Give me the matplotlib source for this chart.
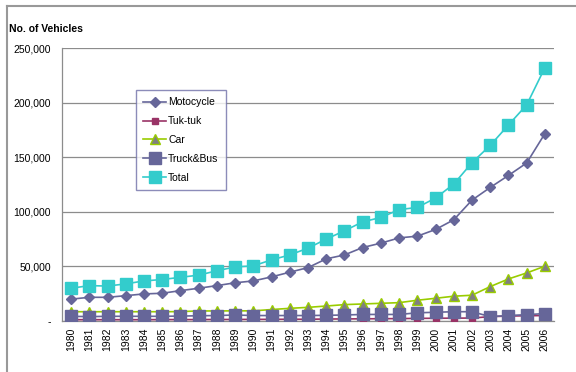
import matplotlib
matplotlib.use("Agg")
import matplotlib.pyplot as plt
from matplotlib.lines import Line2D

plt.rcParams['font.family'] = ['Liberation Sans', 'DejaVu Sans']

years = [str(y) for y in range(1980, 2007)]
motocycle = [20000, 21700, 21700, 23200, 24800, 25400, 27800, 30000, 32400, 35000,
             36700, 40400, 44700, 48900, 56900, 60500, 67300, 71300, 76100, 77700,
             83800, 92700, 110700, 122300, 133300, 144700, 171600]
tuktuk = [1200, 1200, 1200, 1200, 1200, 1300, 1300, 1300, 1400, 1400,
          1500, 1500, 1600, 1600, 1800, 1900, 2000, 2100, 2200, 2400,
          2500, 2600, 2700, 4000, 4500, 4800, 5000]
car = [8500, 8500, 8500, 8500, 8500, 8500, 8600, 9200, 9200, 9300,
       9300, 10500, 11600, 12500, 13700, 15000, 15600, 16200, 16800, 19000,
       20800, 22700, 23600, 31500, 38500, 44000, 50200]
truckbus = [4300, 4000, 4300, 4300, 4300, 4300, 4500, 4800, 5000, 5500,
            5000, 5000, 5000, 5000, 5200, 5500, 6000, 6000, 6000, 7500,
            8000, 8500, 8500, 4000, 5000, 5800, 6800]
total = [30000, 32400, 32000, 34000, 36700, 38000, 40000, 42000, 46000, 49500,
         50500, 56000, 60500, 66700, 75000, 82600, 90800, 94800, 102000, 104000,
         112600, 125400, 145000, 160800, 179500, 197900, 232000]
y_ticks = [0, 50000, 100000, 150000, 200000, 250000]
y_labels = ['-', '50,000', '100,000', '150,000', '200,000', '250,000']

W, H = 576, 372
fig = plt.figure(figsize=(W / 100, H / 100), dpi=100)
ax = fig.add_axes([62 / W, 1 - 321 / H, (554 - 62) / W, (321 - 48) / H])

x = list(range(len(years)))
ax.plot(x, motocycle, color='#666699', lw=1.2, marker='D', ms=5.2,
        mfc='#666699', mec='#666699', label='Motocycle', zorder=3)
ax.plot(x, tuktuk, color='#993366', lw=1.2, marker='s', ms=4.5,
        mfc='#993366', mec='#993366', label='Tuk-tuk', zorder=3)
ax.plot(x, car, color='#99CC00', lw=1.2, marker='^', ms=6.5,
        mfc='#808080', mec='#99CC00', mew=1.0, label='Car', zorder=3)
ax.plot(x, truckbus, color='#666699', lw=1.2, marker='s', ms=8.0,
        mfc='#666699', mec='#666699', label='Truck&Bus', zorder=3)
ax.plot(x, total, color='#33CCCC', lw=1.2, marker='s', ms=8.0,
        mfc='#33CCCC', mec='#33CCCC', label='Total', zorder=3)

ax.set_xlim(-0.5, len(years) - 0.5)
ax.set_ylim(0, 250000)
ax.set_xticks(x)
ax.set_xticklabels(years, rotation=90, fontsize=7.5)
ax.set_yticks(y_ticks)
ax.set_yticklabels(y_labels, fontsize=7.5)
ax.tick_params(axis='y', length=0, pad=8)
ax.tick_params(axis='x', length=0, pad=5)
ax.yaxis.grid(True, color='#8c8c8c', lw=0.9)
ax.set_axisbelow(True)
for s in ['top', 'right']:
    ax.spines[s].set_visible(False)
ax.spines['left'].set_color('#8c8c8c')
ax.spines['bottom'].set_color('#8c8c8c')
ax.spines['left'].set_linewidth(0.9)
ax.spines['bottom'].set_linewidth(0.9)

fig.text(9 / W, 1 - 29 / H, 'No. of Vehicles', fontsize=7.5, fontweight='bold',
         ha='left', va='center')

leg = ax.legend(loc='upper left', bbox_to_anchor=(136 / W, 1 - 90 / H),
                bbox_transform=fig.transFigure, borderaxespad=0, fontsize=7.5,
                frameon=True, fancybox=False, edgecolor='#7070a8',
                handlelength=2.2, handletextpad=0.2, labelspacing=0.85,
                borderpad=0.7, numpoints=1)
leg.get_frame().set_linewidth(1.0)

# outer chart-area frame (cut off at right and bottom)
fig.add_artist(Line2D([7 / W, 1.0], [1 - 6 / H, 1 - 6 / H], transform=fig.transFigure,
                      color='#999999', lw=1.5))
fig.add_artist(Line2D([7 / W, 7 / W], [0, 1 - 6 / H], transform=fig.transFigure,
                      color='#999999', lw=1.5))

fig.savefig('out.png', dpi=100)
